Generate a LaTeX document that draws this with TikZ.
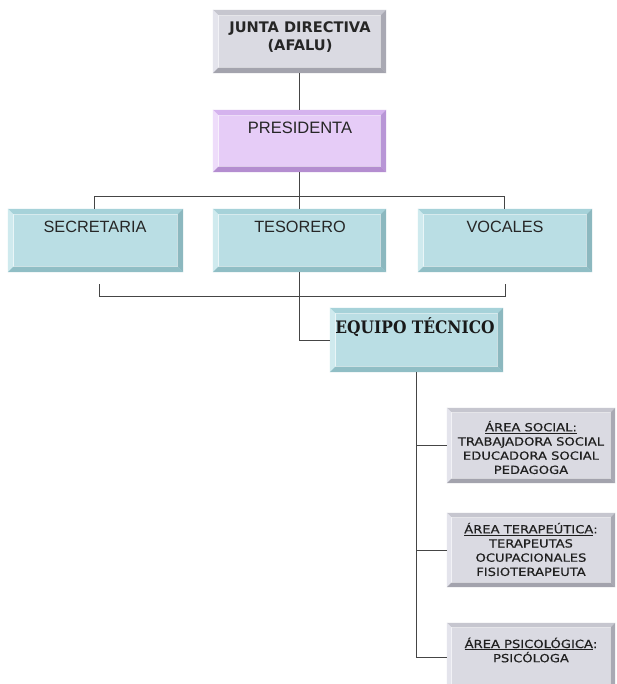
\documentclass[tikz,border=0pt]{standalone}
\usepackage{fontspec}
\setmainfont{Liberation Sans}
\newfontfamily\vfont{DejaVu Sans}
\newfontfamily\afont[FakeStretch=1.17,FakeBold=0.4]{DejaVu Sans}
\newfontfamily\efont{DejaVu Serif Condensed}
\usetikzlibrary{calc}
\definecolor{gface}{HTML}{DADAE2}
\definecolor{gtop}{HTML}{C6C6CF}
\definecolor{gleft}{HTML}{E4E4EC}
\definecolor{gright}{HTML}{A9A9B3}
\definecolor{gbot}{HTML}{A3A3AD}
\definecolor{pface}{HTML}{E6CCF7}
\definecolor{ptop}{HTML}{D5B3EE}
\definecolor{pleft}{HTML}{EEDCFA}
\definecolor{pright}{HTML}{B896D6}
\definecolor{pbot}{HTML}{B48DD0}
\definecolor{bface}{HTML}{BADEE4}
\definecolor{btop}{HTML}{A6D2D9}
\definecolor{bleft}{HTML}{CFEAEE}
\definecolor{bright}{HTML}{8CB8BF}
\definecolor{bbot}{HTML}{90BEC5}
\definecolor{linec}{HTML}{454545}
\newcommand\bevel[6]{%
 \fill[#2] (#1.north west) -- (#1.north east) -- ([shift={(-#6,-#6)}]#1.north east) -- ([shift={(#6,-#6)}]#1.north west) -- cycle;
 \fill[#3] (#1.north west) -- ([shift={(#6,-#6)}]#1.north west) -- ([shift={(#6,#6)}]#1.south west) -- (#1.south west) -- cycle;
 \fill[#4] (#1.north east) -- ([shift={(-#6,-#6)}]#1.north east) -- ([shift={(-#6,#6)}]#1.south east) -- (#1.south east) -- cycle;
 \fill[#5] (#1.south west) -- ([shift={(#6,#6)}]#1.south west) -- ([shift={(-#6,#6)}]#1.south east) -- (#1.south east) -- cycle;
 \draw[white, opacity=0.55, line width=0.7] ([shift={(#6,-#6)}]#1.north west) rectangle ([shift={(-#6,#6)}]#1.south east);
}
\tikzset{
 boxg/.style={inner sep=0, fill=gface},
 boxp/.style={inner sep=0, fill=pface},
 boxb/.style={inner sep=0, fill=bface},
 conn/.style={draw=linec, line width=0.9},
 big/.style={font=\fontsize{16.3}{18}\selectfont, text=black!85, inner sep=0, anchor=base},
 area/.style={font=\afont\fontsize{11.2}{14.2}\selectfont, text=black!88, align=center, inner sep=0},
}
\begin{document}
\begin{tikzpicture}[x=1pt,y=1pt]
\useasboundingbox (0,0) rectangle (616,-684);
\fill[white] (0,0) rectangle (616,-684);
\clip (0,0) rectangle (616,-684);
% boxes
\node[boxg, minimum width=173, minimum height=63] (junta) at (299.5,-41.5) {};
\node[boxp, minimum width=173, minimum height=62] (pres) at (299.5,-141) {};
\node[boxb, minimum width=175, minimum height=63] (sec) at (95.5,-240.5) {};
\node[boxb, minimum width=173, minimum height=63] (tes) at (299.5,-240.5) {};
\node[boxb, minimum width=174, minimum height=63] (voc) at (505,-240.5) {};
\node[boxb, minimum width=173, minimum height=64] (equ) at (416.5,-340) {};
\node[boxg, minimum width=168, minimum height=75] (asoc) at (531,-445.5) {};
\node[boxg, minimum width=168, minimum height=74] (ater) at (531,-550) {};
\node[boxg, minimum width=168, minimum height=68] (apsi) at (531,-657) {};
\bevel{junta}{gtop}{gleft}{gright}{gbot}{6}
\bevel{pres}{ptop}{pleft}{pright}{pbot}{6}
\bevel{sec}{btop}{bleft}{bright}{bbot}{6}
\bevel{tes}{btop}{bleft}{bright}{bbot}{6}
\bevel{voc}{btop}{bleft}{bright}{bbot}{6}
\bevel{equ}{btop}{bleft}{bright}{bbot}{6}
\bevel{asoc}{gtop}{gleft}{gright}{gbot}{5}
\bevel{ater}{gtop}{gleft}{gright}{gbot}{5}
\bevel{apsi}{gtop}{gleft}{gright}{gbot}{5}
% texts
\node[font=\vfont\bfseries\fontsize{14.6}{18}\selectfont, text=black!85, align=center, inner sep=0] (juntaT) at (300,-37) {JUNTA DIRECTIVA\\(AFALU)};
\node[big, font=\fontsize{16.5}{18}\selectfont] (presT) at (300,-134) {PRESIDENTA};
\node[big] (secT) at (95,-233) {SECRETARIA};
\node[big] (tesT) at (300,-233) {TESORERO};
\node[big] (vocT) at (505,-233) {VOCALES};
\node[font=\efont\bfseries\fontsize{17.2}{18}\selectfont, text=black!90, inner sep=0, anchor=base] (equT) at (415,-333) {EQUIPO TÉCNICO};
\node[area] (asocT) at (531,-447.5) {\underline{ÁREA SOCIAL:}\\TRABAJADORA SOCIAL\\EDUCADORA SOCIAL\\PEDAGOGA};
\node[area] (aterT) at (531,-549.5) {\underline{ÁREA TERAPEÚTICA}:\\TERAPEUTAS\\OCUPACIONALES\\FISIOTERAPEUTA};
\node[area] (apsiT) at (531,-650) {\underline{ÁREA PSICOLÓGICA}:\\PSICÓLOGA};
% connectors
\draw[conn] (junta.south) -- (pres.north);
\draw[conn] (pres.south) -- ++(0,-23) coordinate (hub);
\draw[conn] ([xshift=-1.5]sec.north) -- ++(0,12) -| ([xshift=-1]voc.north);
\draw[conn] (hub) -- (tes.north);
\draw[conn] ([xshift=3.5,yshift=-12]sec.south) -- ++(0,-12) coordinate (bl) -- (bl -| voc.south) -- ([yshift=-12]voc.south);
\draw[conn] (tes.south) |- (equ.west);
\draw[conn] (equ.south) |- (asoc.west);
\draw[conn] (equ.south) |- (ater.west);
\draw[conn] (equ.south) |- (apsi.west);
\end{tikzpicture}
\end{document}
